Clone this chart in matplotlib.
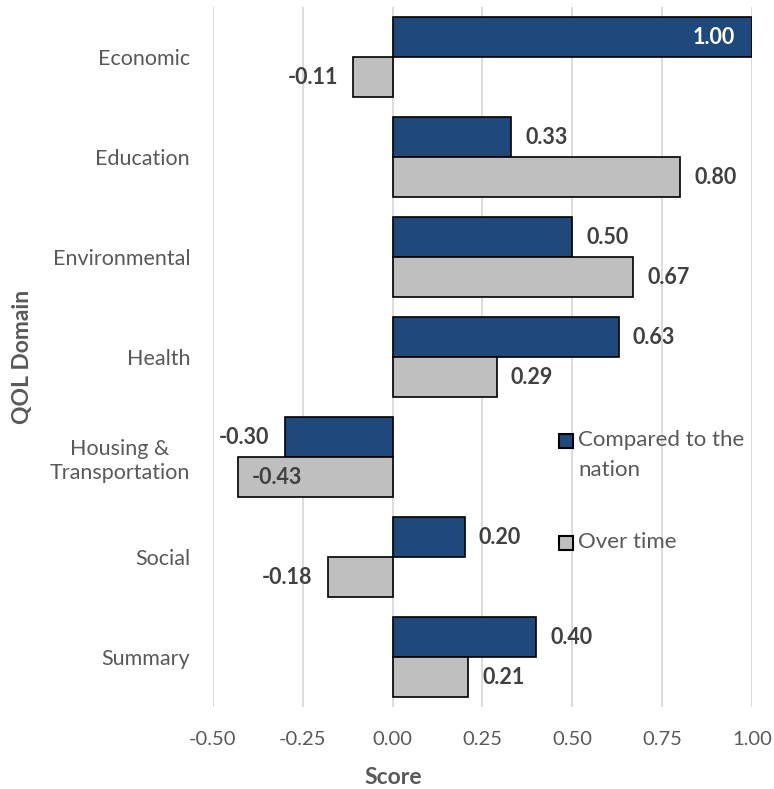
#!/usr/bin/env python3
"""
QOL domain scores - horizontal grouped bar chart
"""

import matplotlib
matplotlib.use('Agg')
import matplotlib.pyplot as plt
from matplotlib.patches import Rectangle
import numpy as np

# 数据
domains = ['Economic', 'Education', 'Environmental', 'Health',
           'Housing &\nTransportation', 'Social', 'Summary']
vs_nation = [1.00, 0.33, 0.50, 0.63, -0.30, 0.20, 0.40]
over_time = [-0.11, 0.80, 0.67, 0.29, -0.43, -0.18, 0.21]
series_names = ['Compared to the\nnation', 'Over time']
xticks = [-0.5, -0.25, 0.0, 0.25, 0.5, 0.75, 1.0]

BLUE = '#1F497D'
GRAY = '#BFBFBF'
TXT = '#595959'
LBL = '#404040'

plt.rcParams['font.family'] = ['Lato', 'DejaVu Sans']

W, H = 774, 789
AX_L, AX_R, AX_T, AX_B = 213, 752, 7, 707

fig = plt.figure(figsize=(W / 100, H / 100), dpi=100)
ax = fig.add_axes([AX_L / W, 1 - AX_B / H, (AX_R - AX_L) / W, (AX_B - AX_T) / H])


def axc(px, py):
    # 像素坐标 -> 轴坐标
    return (px - AX_L) / (AX_R - AX_L), 1 - (py - AX_T) / (AX_B - AX_T)


y = np.arange(len(domains))
h = 0.4
b1 = ax.barh(y - h / 2, vs_nation, height=h, color=BLUE, edgecolor='black',
             linewidth=1.2, zorder=3)
b2 = ax.barh(y + h / 2, over_time, height=h, color=GRAY, edgecolor='black',
             linewidth=1.2, zorder=3)

ax.set_xlim(-0.5, 1.0)
ax.set_ylim(len(domains) - 0.5, -0.5)
ax.set_xticks(xticks)
ax.set_xticklabels([f'{t:.2f}' for t in xticks])
ax.set_yticks(y)
ax.set_yticklabels(domains, multialignment='center', linespacing=1.25)
ax.tick_params(axis='x', length=0, pad=17, labelsize=14.5, labelcolor=TXT)
ax.tick_params(axis='y', length=0, pad=16.5, labelsize=15.5, labelcolor=TXT)
ax.grid(axis='x', color='#D9D9D9', linewidth=1.3, zorder=0)
for s in ax.spines.values():
    s.set_visible(False)

ax.set_xlabel('Score', fontsize=16.5, fontweight='bold', color=TXT, va='center')
ax.set_ylabel('QOL Domain', fontsize=16.5, fontweight='bold', color=TXT, va='center')
ax.xaxis.set_label_coords(*axc(393, 777))
ax.yaxis.set_label_coords(*axc(23, 357))


def put_label(bar, val, inside=False, color=LBL):
    yc = bar.get_y() + bar.get_height() / 2
    txt = f'{val:.2f}'
    if inside:
        off, ha = (-12, 'right') if val > 0 else (10, 'left')
    else:
        off, ha = (10, 'left') if val >= 0 else (-11, 'right')
    ax.annotate(txt, (val, yc), xytext=(off, 0), textcoords='offset points',
                ha=ha, va='center', fontsize=15.5, fontweight='bold', color=color)


for bar, v in zip(b1, vs_nation):
    if v >= 1.0:
        put_label(bar, v, inside=True, color='white')
    else:
        put_label(bar, v)
for bar, v in zip(b2, over_time):
    if v <= -0.4:
        put_label(bar, v, inside=True)
    else:
        put_label(bar, v)

# 图例（手动绘制，色块与第一行文字对齐）
sq = 14
for (py, col, name) in [(440.5, BLUE, series_names[0]), (542.5, GRAY, series_names[1])]:
    x0, y0 = axc(559, py + sq / 2)
    ax.add_patch(Rectangle((x0, y0), sq / (AX_R - AX_L), sq / (AX_B - AX_T),
                           transform=ax.transAxes, facecolor=col, edgecolor='black',
                           linewidth=1.5, clip_on=False, zorder=4))
    tx, ty = axc(578, py - 10)
    ax.text(tx, ty, name, transform=ax.transAxes, ha='left', va='top',
            fontsize=16, color=TXT, linespacing=1.6)

fig.savefig('out.png', dpi=100)
